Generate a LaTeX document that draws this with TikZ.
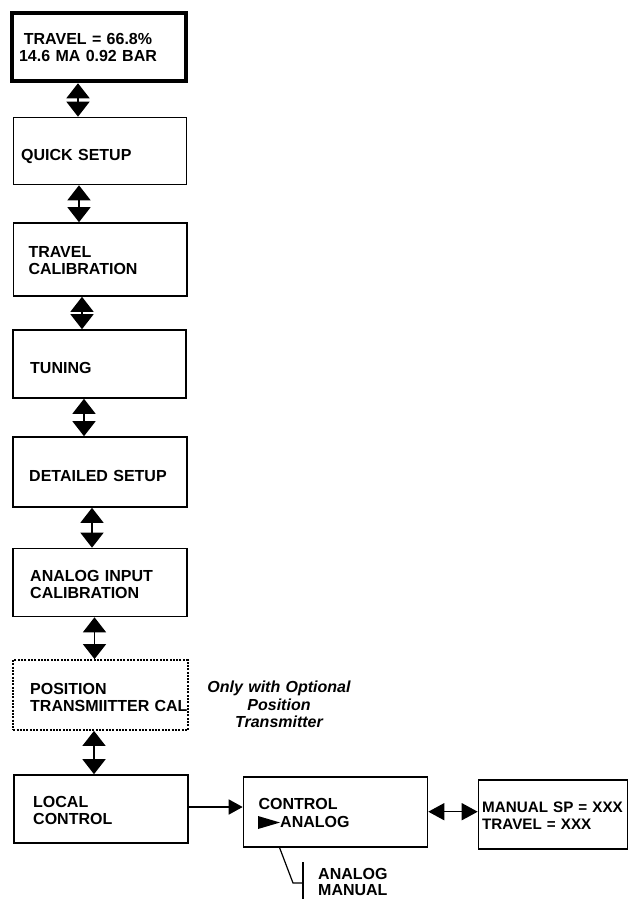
\documentclass[tikz,border=0pt]{standalone}
\usepackage{fontspec}
\setmainfont{Liberation Sans}
\usetikzlibrary{arrows.meta}
\begin{document}
\begin{tikzpicture}[x=1pt,y=-1pt,
  box/.style={draw, line width=1.6pt, inner sep=0pt},
  dotbox/.style={box, line width=1.8pt, dash pattern=on 2pt off 1.3pt},
  txt/.style={inner sep=0pt, anchor=base west, align=left, text width=175pt,
    font=\fontsize{16}{17}\selectfont\bfseries},
  note/.style={inner sep=0pt, anchor=base, align=center, text width=170pt,
    font=\fontsize{16}{17.5}\selectfont\bfseries\itshape},
  dbl/.style={line width=1.5pt, <->, >={Triangle[width=23pt,length=15pt]}},
  one/.style={line width=1.5pt, ->, >={Triangle[width=15pt,length=14pt]}},
  dblh/.style={line width=1.5pt, <->, >={Triangle[width=17pt,length=16pt]}},
  thin/.style={line width=1.2pt}]
\useasboundingbox (0,0) rectangle (629,899);

% boxes
\node[box, line width=4.5pt, minimum width=174pt, minimum height=68pt] (b1) at (99,47) {};
\node[box, minimum width=173pt, minimum height=67pt] (b2) at (100,151) {};
\node[box, minimum width=173.5pt, minimum height=73pt] (b3) at (100.25,259.5) {};
\node[box, minimum width=173pt, minimum height=68pt] (b4) at (99.4,364) {};
\node[box, minimum width=174pt, minimum height=70pt] (b5) at (100,472) {};
\node[box, minimum width=174pt, minimum height=68pt] (b6) at (100.2,582.5) {};
\node[dotbox, minimum width=174.5pt, minimum height=70pt] (b7) at (100.5,695) {};
\node[box, minimum width=174pt, minimum height=68pt] (b8) at (100.8,809) {};
\node[box, minimum width=184pt, minimum height=70pt] (b9) at (335.5,811.7) {};
\node[box, minimum width=149pt, minimum height=69pt] (b10) at (553,814.5) {};

% texts
\node[txt, anchor=base, align=center, text width=170pt] (t1) at (88,45) {TRAVEL = 66.8\%\\14.6 MA 0.92 BAR};
\node[txt] (t2) at (21,160) {QUICK SETUP};
\node[txt] (t3) at (28.3,257) {TRAVEL\\CALIBRATION};
\node[txt] (t4) at (30,373) {TUNING};
\node[txt] (t5) at (29,481) {DETAILED SETUP};
\node[txt] (t6) at (30,581) {ANALOG INPUT\\CALIBRATION};
\node[txt] (t7) at (30,694) {POSITION\\TRANSMIITTER CAL};
\node[txt] (t8) at (33,807) {LOCAL\\CONTROL};
\node[txt, text width=150pt] (t9a) at (258.3,809) {CONTROL};
\node[txt, text width=150pt] (t9b) at (280,827) {ANALOG};
\node[txt, text width=145pt, font=\fontsize{15.2}{17.3}\selectfont\bfseries] (t10) at (482,812.5) {MANUAL SP = XXX\\TRAVEL = XXX};
\node[txt, text width=100pt] (t11) at (318,879) {ANALOG\\[-1pt]MANUAL};
\node[note] (n1) at (279,692) {Only with Optional\\[1pt]Position\\[-1pt]Transmitter};

% small pointer triangle before ANALOG
\fill (258,816) -- (258,829) -- (280,822.5) -- cycle;

% x positions of the vertical double arrows
\coordinate (x1) at (78,0);
\coordinate (x2) at (79,0);
\coordinate (x3) at (82,0);
\coordinate (x4) at (84,0);
\coordinate (x5) at (92,0);
\coordinate (x6) at (94.5,0);
\coordinate (x7) at (94,0);

\draw[dbl] (b1.south -| x1) -- (b2.north -| x1);
\draw[dbl] (b2.south -| x2) -- (b3.north -| x2);
\draw[dbl] (b3.south -| x3) -- (b4.north -| x3);
\draw[dbl] (b4.south -| x4) -- (b5.north -| x4);
\draw[dbl] (b5.south -| x5) -- (b6.north -| x5);
\draw[dbl] (b6.south -| x6) -- (b7.north -| x6);
\draw[dbl] (b7.south -| x7) -- (b8.north -| x7);

% horizontal connectors
\draw[one] ([yshift=2pt]b8.east) -- ([yshift=2pt]b8.east -| b9.west);
\draw[dblh] (b9.east) -- (b9.east -| b10.west);

% branch to ANALOG / MANUAL
\coordinate (k1) at (293,883);
\coordinate (k2) at (303,883);
\coordinate (v1) at (303,862);
\coordinate (v2) at (303,899);
\draw[thin] ([xshift=-56pt]b9.south) -- (k1) -- (k2);
\draw[thin] (v1) -- (v2);
\end{tikzpicture}
\end{document}
